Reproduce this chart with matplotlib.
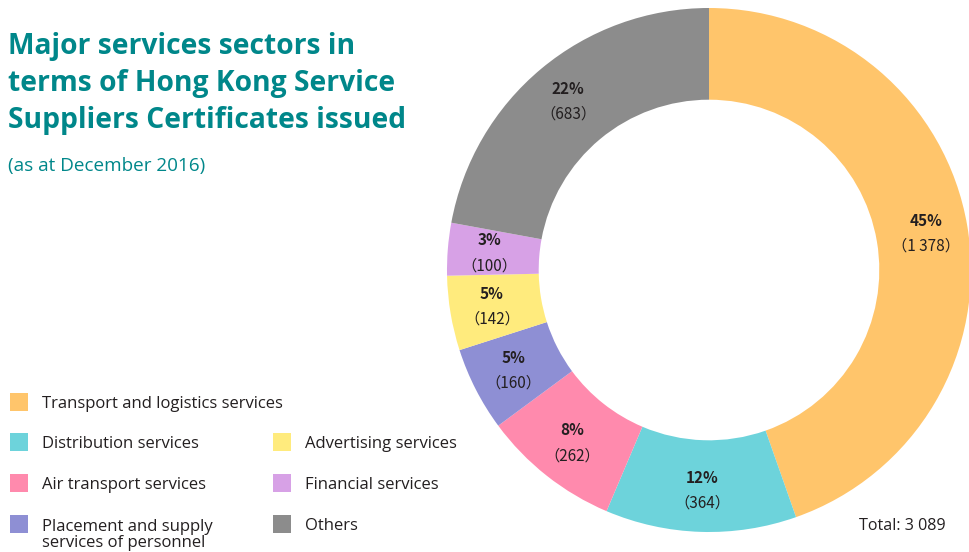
import matplotlib.pyplot as plt
from matplotlib.patches import Rectangle
import numpy as np

# data
sectors = ['Transport and logistics services', 'Distribution services',
           'Air transport services', 'Placement and supply\nservices of personnel',
           'Advertising services', 'Financial services', 'Others']
counts = [1378, 364, 262, 160, 142, 100, 683]
pcts = [45, 12, 8, 5, 5, 3, 22]
colors = ['#FFC56B', '#6DD3DB', '#FF8AAD', '#8E8FD4', '#FFEB7D', '#D7A1E6', '#8C8C8C']

teal = '#00878A'
txt = '#231F20'
lab_font = ['Noto Sans CJK SC', 'DejaVu Sans']

fig = plt.figure(figsize=(9.69, 5.52), dpi=100)

# donut
ax = fig.add_axes([447 / 969, 20 / 552, 524 / 969, 524 / 552])
wedges, _ = ax.pie(counts, colors=colors, startangle=90, counterclock=False,
                   radius=1, wedgeprops=dict(width=0.35, linewidth=0))
ax.set_xlim(-1, 1)
ax.set_ylim(-1, 1)
ax.set_aspect('equal')
ax.axis('off')

for w, p, c in zip(wedges, pcts, counts):
    ang = np.deg2rad((w.theta1 + w.theta2) / 2)
    r = 0.84
    x, y = r * np.cos(ang), r * np.sin(ang)
    cs = f'{c:,}'.replace(',', ' ')
    ax.text(x, y + 0.047, f'{p}%', ha='center', va='center', fontsize=11,
            fontweight='bold', color=txt, family=lab_font)
    ax.text(x, y - 0.05, f'（{cs}）', ha='center', va='center', fontsize=11,
            color=txt, family=lab_font)

# title
fig.text(8 / 969, 1 - 32 / 552, 'Major services sectors in\nterms of Hong Kong Service\nSuppliers Certificates issued',
         ha='left', va='top', fontsize=20.3, fontweight='bold', color=teal,
         family='Open Sans', linespacing=1.36)
fig.text(8 / 969, 1 - 166 / 552, '(as at December 2016)', ha='left', va='center',
         fontsize=13.6, color=teal, family='Open Sans')

# legend
slots = [(0, 0), (0, 1), (0, 2), (0, 3), (1, 1), (1, 2), (1, 3)]
col_x = [10, 273]
row_y = [404, 444, 485, 526]
for (ci, ri), name, col in zip(slots, sectors, colors):
    x0 = col_x[ci]
    y0 = row_y[ri]
    fig.patches.append(Rectangle((x0 / 969, 1 - (y0 + 7) / 552), 18 / 969, 18 / 552,
                                 transform=fig.transFigure, color=col, lw=0))
    yt = y0 + 9 if '\n' in name else y0
    fig.text((x0 + 32) / 969, 1 - yt / 552, name, ha='left', va='center',
             fontsize=12.0, color=txt, family='Open Sans', linespacing=1.0)

fig.text(946 / 969, 1 - 526 / 552, 'Total: 3 089', ha='right', va='center',
         fontsize=11.6, color=txt, family='Open Sans')

fig.savefig('out.png', dpi=100)
